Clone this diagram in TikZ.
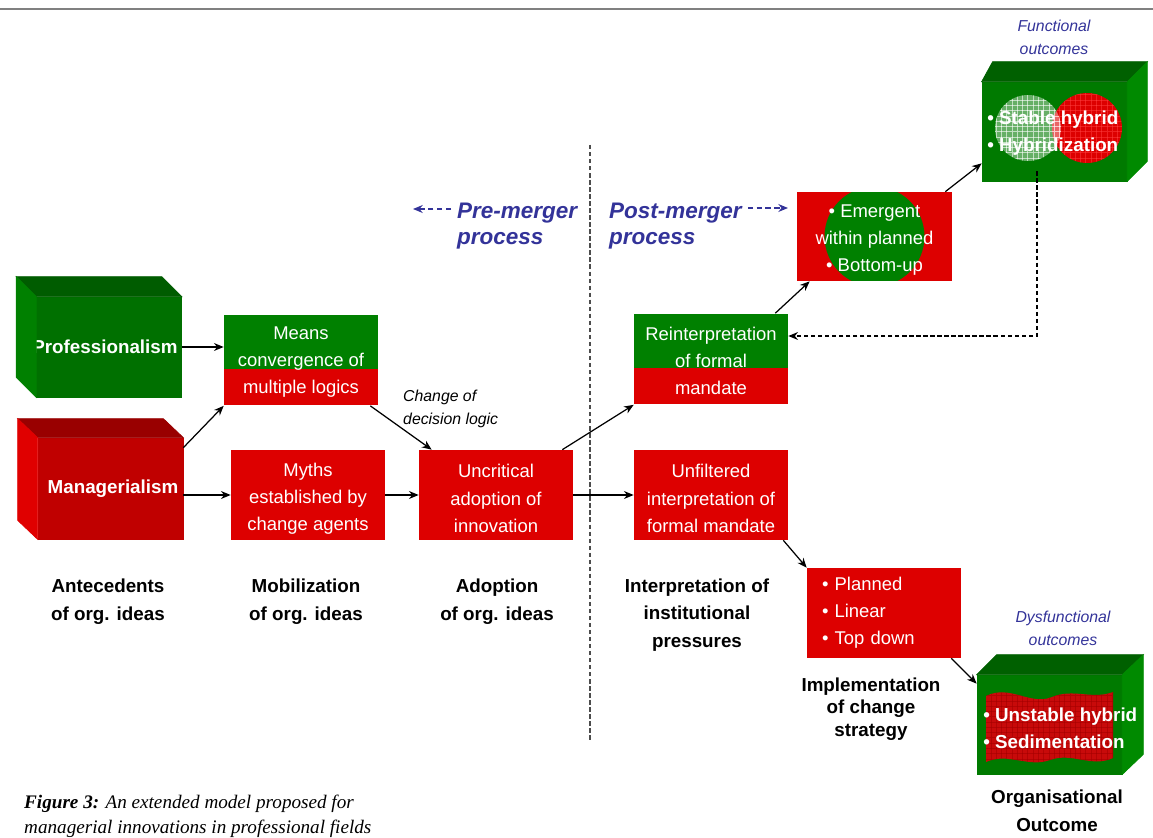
\documentclass[tikz,border=0pt]{standalone}
\usepackage{fontspec}
\setmainfont{Liberation Sans}
\newfontfamily\capfont{Liberation Serif}
\usetikzlibrary{arrows.meta,positioning,calc,patterns}

\definecolor{boxred}{RGB}{221,0,0}
\definecolor{boxgreen}{RGB}{0,128,0}
\definecolor{procblue}{RGB}{51,51,153}
\definecolor{proffront}{RGB}{0,112,0}
\definecolor{proftop}{RGB}{0,92,0}
\definecolor{profside}{RGB}{0,128,0}
\definecolor{mgrfront}{RGB}{192,0,0}
\definecolor{mgrtop}{RGB}{153,0,0}
\definecolor{mgrside}{RGB}{224,0,0}
\definecolor{outfront}{RGB}{0,122,0}
\definecolor{outtop}{RGB}{0,96,0}
\definecolor{outside}{RGB}{0,138,0}
\definecolor{wavered}{RGB}{200,10,10}

\newcommand\boxfont{\fontsize{10.5}{15.4}\selectfont}
\newcommand\stagefont{\fontsize{10.7}{15.8}\selectfont\bfseries}
\newcommand\outfont{\fontsize{10.7}{15.6}\selectfont\bfseries}
\newcommand\topstrut{\rule{0pt}{11.5pt}}

\tikzset{
  box/.style={fill=boxred, text=white, minimum width=3.08cm, minimum height=1.8cm,
    inner sep=0pt, align=center, font=\boxfont},
  splitbox/.style={box, minimum height=1.82cm, path picture={\fill[boxgreen]
    (path picture bounding box.north west) rectangle ([yshift=-0.17cm]path picture bounding box.east);}},
  front/.style={fill=#1, draw=#1, line width=0.4pt, minimum width=2.9cm, minimum height=2cm,
    inner sep=0pt, text=white, font=\outfont},
  face/.style={fill=#1, draw=#1, line width=0.4pt},
  stagetext/.style={align=center, font=\stagefont},
  outnote/.style={align=center, text=procblue, font=\fontsize{9}{13}\selectfont\itshape},
  proctext/.style={anchor=west, align=left, text=procblue, font=\fontsize{12.8}{14.8}\selectfont\bfseries\itshape},
  arr/.style={->, line width=0.7pt},
  procarr/.style={->, procblue, line width=0.8pt, dash pattern=on 3pt off 2pt},
}

\begin{document}
\begin{tikzpicture}[x=0.02cm, y=-0.02cm, >={Stealth[length=5.5pt,width=4.5pt]}]
\useasboundingbox (0,0) rectangle (1153,838);

\draw[gray, line width=0.8pt] (0,9) -- (1153,9);
\draw[black!70, line width=0.6pt, dash pattern=on 2.5pt off 1.5pt] (590,145) -- (590,742);

% antecedents
\node[front=proffront] (prof) at (109,347) {\kern-0.16cm Professionalism};
\filldraw[face=proftop] (prof.north west) -- (prof.north east) -- ++(-20,-20) -- ($(prof.north west)+(-20,-20)$) -- cycle;
\filldraw[face=profside] (prof.north west) -- (prof.south west) -- ++(-20,-20) -- ($(prof.north west)+(-20,-20)$) -- cycle;

\node[front=mgrfront, minimum height=2.02cm] (mgr) at (110.5,488.5) {\hspace*{0.1cm}Managerialism};
\filldraw[face=mgrtop] (mgr.north west) -- (mgr.north east) -- ++(-20,-19) -- ($(mgr.north west)+(-20,-19)$) -- cycle;
\filldraw[face=mgrside] (mgr.north west) -- (mgr.south west) -- ++(-20,-19) -- ($(mgr.north west)+(-20,-19)$) -- cycle;

% process boxes
\node[splitbox] (means) at (301,360) {\rule{0pt}{9.5pt}Means\\convergence of\\multiple logics};
\node[box] (myths) at (308,495) {\topstrut Myths\\established by\\change agents};
\node[box] (uncrit) at (496,495) {\topstrut Uncritical\\adoption of\\innovation};
\node[splitbox] (reint) at (711,359) {\rule{0pt}{9.5pt}Reinterpretation\\of formal\\mandate};
\node[box] (unfilt) at (711,495) {\topstrut Unfiltered\\interpretation of\\formal mandate};
\node[box, minimum width=3.1cm, minimum height=1.78cm,
  path picture={\fill[boxgreen] (path picture bounding box.center) circle (1cm);}]
  (emerg) at (874.5,236.5) {\topstrut\textbullet\ Emergent\\within planned\\\textbullet\ Bottom-up};
\node[box, align=left, text width=2.48cm, inner xsep=0.3cm] (plan) at (884,613)
  {\textbullet\ Planned\\\textbullet\ Linear\\\textbullet\ Top down};

\node[anchor=west, align=left, font=\fontsize{9}{13}\selectfont\itshape] (chlogic) at (397,409) {Change of\\decision logic};

% outcomes
\node[outnote] (funcnote) at (1054,37) {Functional\\outcomes};
\node[front=outfront, minimum height=1.98cm] (func) at (1054.5,131.5) {};
\filldraw[face=outtop] (func.north west) -- (func.north east) -- ++(20,-20) -- ($(func.north west)+(11,-20)$) -- cycle;
\filldraw[face=outside] (func.north east) -- (func.south east) -- ++(20,-20) -- ($(func.north east)+(20,-20)$) -- cycle;
\fill[boxred] (1087,128) circle (0.7cm);
\fill[pattern=grid, pattern color=red!75!white, opacity=0.5] (1087,128) circle (0.7cm);
\fill[white, opacity=0.4] (1028,128) circle (0.66cm);
\fill[pattern=grid, pattern color=white, opacity=0.6] (1028,128) circle (0.66cm);
\node[anchor=west, align=left, text=white, font=\outfont, inner sep=0pt] (funcpts) at (987,133)
  {\textbullet\ Stable hybrid\\\textbullet\ Hybridization};

\node[outnote] (dysfnote) at (1063,628) {Dysfunctional\\outcomes};
\node[front=outfront, minimum height=1.98cm] (dysf) at (1049.5,724.5) {};
\filldraw[face=outtop] (dysf.north west) -- (dysf.north east) -- ++(21,-20) -- ($(dysf.north west)+(20,-20)$) -- cycle;
\filldraw[face=outside] (dysf.north east) -- (dysf.south east) -- ++(21,-20) -- ($(dysf.north east)+(21,-20)$) -- cycle;
\fill[wavered] (986,696) .. controls (1010,684) and (1030,706) .. (1052,697)
  .. controls (1074,688) and (1092,700) .. (1113,692) -- (1113,758)
  .. controls (1092,768) and (1072,752) .. (1050,760)
  .. controls (1028,768) and (1008,752) .. (986,762) -- cycle;
\fill[pattern=grid, pattern color=red!65!black, opacity=0.6] (986,696) .. controls (1010,684) and (1030,706) .. (1052,697)
  .. controls (1074,688) and (1092,700) .. (1113,692) -- (1113,758)
  .. controls (1092,768) and (1072,752) .. (1050,760)
  .. controls (1028,768) and (1008,752) .. (986,762) -- cycle;
\node[anchor=west, align=left, text=white, font=\outfont, inner sep=0pt] (dysfpts) at (983,728)
  {\textbullet\ Unstable hybrid\\\textbullet\ Sedimentation};

% merger process
\node[proctext] (pre) at (451,226) {Pre-merger\\process};
\node[proctext] (post) at (603,226) {Post-merger\\process};
\coordinate (preend) at (413,209);
\coordinate (postend) at (788,208);
\draw[procarr] (pre.west |- preend) -- (preend);
\draw[procarr] (post.east |- postend) -- (postend);

% stage labels
\node[stagetext] (antec) at (108,602) {Antecedents\\of org. ideas};
\node[stagetext] (mobil) at (306,602) {Mobilization\\of org. ideas};
\node[stagetext] (adopt) at (497,602) {Adoption\\of org. ideas};
\node[stagetext] (interp) at (697,615) {Interpretation of\\institutional\\pressures};
\node[stagetext, font=\fontsize{10.7}{12.8}\selectfont\bfseries] (implem) at (871,709) {Implementation\\of change\\strategy};
\node[stagetext] (orgout) at (1057,811) {Organisational\\Outcome};

\node[anchor=west, align=left, font=\capfont\fontsize{10.9}{14.2}\selectfont\itshape] (caption) at (18,816)
  {\textbf{Figure 3:} An extended model proposed for\\managerial innovations in professional fields};

% connectors
\draw[arr] (prof.east) -- (prof.east -| means.west);
\draw[arr] ([yshift=-0.2cm]mgr.north east) -- (means.south west);
\draw[arr] (mgr.east |- myths.west) -- (myths.west);
\draw[arr] ([xshift=-0.16cm]means.south east) -- ([xshift=0.26cm]uncrit.north west);
\draw[arr] (myths.east) -- (uncrit.west);
\draw[arr] (uncrit.east) -- (unfilt.west);
\draw[arr] ([xshift=-0.22cm]uncrit.north east) -- (reint.south west);
\draw[arr] ([xshift=-0.26cm]reint.north east) -- ([xshift=0.26cm]emerg.south west);
\draw[arr] ([xshift=-0.14cm]emerg.north east) -- ([yshift=0.36cm]func.south west);
\draw[arr, dash pattern=on 2.5pt off 1.5pt] ([xshift=-0.35cm, yshift=0.2cm]func.south) |- ([yshift=0.46cm]reint.east);
\draw[arr] ([xshift=-0.1cm]unfilt.south east) -- (plan.north west);
\draw[arr] ([xshift=-0.2cm]plan.south east) -- ([yshift=-0.18cm]dysf.north west);

\end{tikzpicture}
\end{document}
